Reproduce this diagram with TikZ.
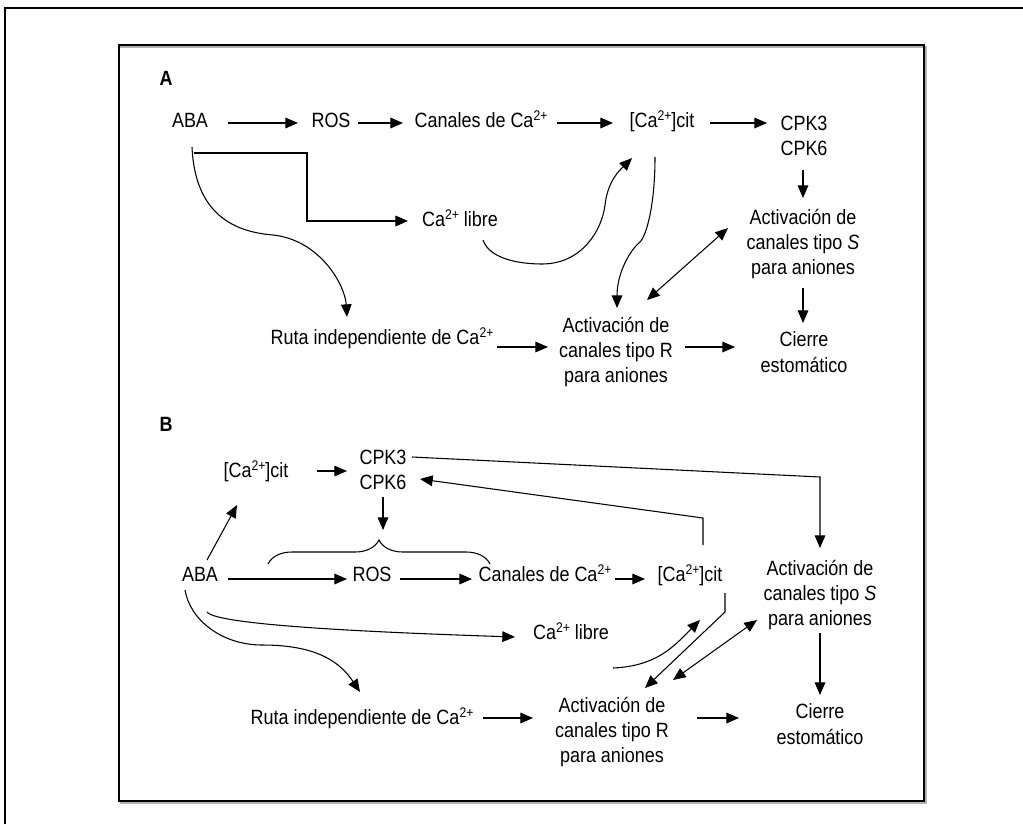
\documentclass[tikz,border=0pt]{standalone}
\usepackage{fontspec}
\setmainfont{Liberation Sans}[FakeStretch=0.87]
\usetikzlibrary{arrows.meta,calc,decorations.pathreplacing}

\newcommand{\ionsup}[1]{\raisebox{0.36em}{\fontsize{10.5}{11}\selectfont #1}}

\tikzset{
  lbl/.style={inner sep=0pt, text height=0.716em, text depth=0pt},
  blk/.style={inner sep=0pt, align=center},
  arr/.style={-{Triangle[length=9.5pt,width=8pt]}, line width=0.8pt},
  darr/.style={{Triangle[length=9.5pt,width=8pt]}-{Triangle[length=9.5pt,width=8pt]}, line width=0.8pt},
  ln/.style={line width=0.8pt},
}

\begin{document}
\begin{tikzpicture}[x=0.75pt,y=-0.75pt,font=\fontsize{15.5}{19}\selectfont]
  \useasboundingbox (0,0) rectangle (1023,824);
  % frames
  \draw[line width=1.2pt] (5,824) -- (5,8) -- (1023,8);
  \draw[gray!60,line width=0.8pt] (120,47) -- (926,47) -- (926,803) -- (120,803);
  \draw[line width=1.1pt] (119,45) rectangle (924,801);

  % panel A
  \node[lbl,font=\fontsize{15.5}{19}\selectfont\bfseries] (labA) at (166,81) {A};
  \node[lbl] (abaA) at (190,123) {ABA};
  \node[lbl] (rosA) at (331,123) {ROS};
  \node[lbl] (canA) at (481,123) {Canales de Ca\ionsup{2+}};
  \node[lbl] (citA) at (662,123) {[Ca\ionsup{2+}]cit};
  \node[blk] (cpkA) at (804,136) {CPK3\\CPK6};
  \node[lbl] (libA) at (460,222) {Ca\ionsup{2+} libre};
  \node[blk] (actSA) at (803,244) {Activación de\\canales tipo \textit{S}\\para aniones};
  \node[lbl] (rutaA) at (382,340) {Ruta independiente de Ca\ionsup{2+}};
  \node[blk] (actRA) at (616,352) {Activación de\\canales tipo R\\para aniones};
  \node[blk] (cieA) at (804,352) {Cierre\\estomático};

  \draw[arr] ($(abaA)+(38,0)$) -- ($(rosA)+(-33,0)$);
  \draw[arr] ($(rosA)+(27,0)$) -- ($(canA)+(-78,0)$);
  \draw[arr] ($(canA)+(76,0)$) -- ($(citA)+(-49,0)$);
  \draw[arr] ($(citA)+(48,0)$) -- ($(cpkA)+(-37,-13)$);
  \draw[arr] ($(cpkA)+(-1,34)$) -- ($(actSA)+(0,-46)$);
  \draw[arr] ($(actSA)+(0,44)$) -- ($(cieA)+(-1,-29)$);
  \draw[arr] ($(rutaA)+(115,7)$) -- ($(actRA)+(-68,-5)$);
  \draw[arr] ($(actRA)+(69,-5)$) -- ($(cieA)+(-69,-5)$);
  \draw[arr] ($(abaA)+(4,30)$) -- ++(113,0) |- ($(libA)+(-52,-1)$);
  \draw[arr] ($(abaA)+(2,24)$) .. controls +(3,68) and +(-38,-3) .. ++(81,88)
    .. controls +(47,5) and +(-2,-32) .. ($(rutaA)+(-35,-23)$);
  \draw[arr] ($(libA)+(23,18)$) .. controls +(6,18) and +(-25,0) .. ++(59,24)
    .. controls +(40,0) and +(-3,25) .. ++(63,-59)
    .. controls +(3,-25) and +(-12,12) .. ($(citA)+(-30,35)$);
  \draw[arr] ($(citA)+(-7,34)$) .. controls +(0,50) and +(6,-6) .. ++(-15,85)
    .. controls +(-10,8) and +(0,-35) .. ($(actRA)+(1,-44)$);
  \draw[darr] ($(actSA)+(-75,-16)$) -- ($(actRA)+(31,-52)$);

  % panel B
  \node[lbl,font=\fontsize{15.5}{19}\selectfont\bfseries] (labB) at (166,427) {B};
  \node[lbl] (citB1) at (256,473) {[Ca\ionsup{2+}]cit};
  \node[blk] (cpkB) at (383,470) {CPK3\\CPK6};
  \node[lbl] (abaB) at (200,577) {ABA};
  \node[lbl] (rosB) at (372,577) {ROS};
  \node[lbl] (canB) at (545,577) {Canales de Ca\ionsup{2+}};
  \node[lbl] (citB2) at (690,577) {[Ca\ionsup{2+}]cit};
  \node[blk] (actSB) at (820,595) {Activación de\\canales tipo \textit{S}\\para aniones};
  \node[lbl] (libB) at (571,635) {Ca\ionsup{2+} libre};
  \node[lbl] (rutaB) at (362,720) {Ruta independiente de Ca\ionsup{2+}};
  \node[blk] (actRB) at (612,732) {Activación de\\canales tipo R\\para aniones};
  \node[blk] (cieB) at (820,724) {Cierre\\estomático};

  \draw[ln,decorate,decoration={brace,amplitude=18pt}]
    ($(rosB)+(-104,-13)$) -- ($(canB)+(-55,-13)$);
  \draw[arr] ($(citB1)+(61,-2)$) -- ($(cpkB)+(-36,1)$);
  \draw[arr] ($(cpkB)+(0,27)$) -- ($(cpkB)+(0,60)$);
  \draw[arr] ($(abaB)+(7,-17)$) -- ($(citB1)+(-19,32)$);
  \draw[arr] ($(abaB)+(28,2)$) -- ($(rosB)+(-25,2)$);
  \draw[arr] ($(rosB)+(28,2)$) -- ($(canB)+(-73,2)$);
  \draw[arr] ($(canB)+(70,2)$) -- ($(citB2)+(-45,2)$);
  \draw[arr] ($(citB2)+(13,-32)$) -- ++(0,-27) -- ($(cpkB)+(37,9)$);
  \draw[arr] ($(cpkB)+(29,-13)$) -- ($(actSB)+(0,-118)$) -- ($(actSB)+(0,-47)$);
  \draw[arr] ($(abaB)+(7,35)$) .. controls +(10,14) and +(-120,-4) .. ($(libB)+(-56,2)$);
  \draw[arr] ($(abaB)+(-15,13)$) .. controls +(5,30) and +(-40,0) .. ++(77,55)
    .. controls +(55,0) and +(-20,-30) .. ($(rutaB)+(-2,-28)$);
  \draw[arr] ($(libB)+(42,33)$) .. controls +(45,-2) and +(-25,25) .. ($(citB2)+(10,43)$);
  \draw[arr] ($(citB2)+(35,16)$) -- ++(0,19) -- ($(actRB)+(33,-44)$);
  \draw[darr] ($(actSB)+(-63,25)$) -- ($(actRB)+(61,-52)$);
  \draw[arr] ($(actSB)+(0,38)$) -- ($(cieB)+(0,-29)$);
  \draw[arr] ($(rutaB)+(121,-2)$) -- ($(actRB)+(-79,-14)$);
  \draw[arr] ($(actRB)+(85,-14)$) -- ($(cieB)+(-81,-6)$);
\end{tikzpicture}
\end{document}
